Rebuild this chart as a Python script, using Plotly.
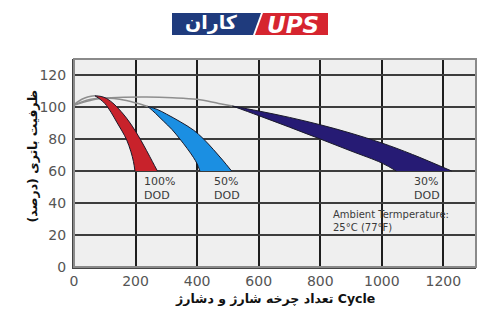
import plotly.graph_objects as go

# ---- data ----
x_ticks = [0, 200, 400, 600, 800, 1000, 1200]
y_ticks = [0, 20, 40, 60, 80, 100, 120]

# thin grey capacity curves (cycles, %)
g_red_x = [0, 15, 35, 55, 68]
g_red_y = [101.5, 103.6, 105.6, 106.7, 107.0]
g_blue_x = [0, 25, 55, 90, 130, 170, 205, 240]
g_blue_y = [101.3, 103.2, 104.8, 105.6, 105.3, 104.0, 102.3, 100.3]
g_navy_x = [0, 30, 70, 120, 236, 320, 400, 470, 515]
g_navy_y = [101.0, 102.9, 104.8, 105.8, 106.2, 105.8, 104.8, 102.2, 100.6]

# 100% DOD band
red_left_x = [68, 85, 101, 120, 139, 156, 171, 185, 193, 198]
red_left_y = [107, 104.8, 102, 96.8, 90.5, 85, 79.5, 72, 66, 60]
red_right_x = [68, 88, 106, 130, 160, 180, 198, 218, 236, 255, 271]
red_right_y = [107, 106.6, 105.3, 101.8, 95.6, 90.6, 85.4, 79, 72.7, 65.8, 60]

# 50% DOD band
blue_left_x = [240, 265, 290, 318, 344, 368, 388, 400, 409]
blue_left_y = [100.3, 96, 91.3, 86, 80, 74, 68.5, 64.5, 60]
blue_right_x = [240, 270, 301, 345, 388, 420, 453, 483, 512]
blue_right_y = [100.3, 98.5, 95.5, 90.8, 85.6, 80.2, 73.4, 66.8, 60]

# 30% DOD band
navy_top_x = [515, 600, 700, 800, 900, 1000, 1100, 1227]
navy_top_y = [100.6, 97.5, 93.5, 88.9, 83.6, 77.5, 70.3, 60]
navy_bot_x = [515, 600, 700, 800, 900, 1000, 1047]
navy_bot_y = [100.6, 94.6, 87.4, 80, 72.5, 65, 60]

band_labels = [("100%", "DOD", 220), ("50%", "DOD", 447), ("30%", "DOD", 1098)]
ambient_lines = ["Ambient Termperature:", "25°C (77°F)"]

x_title = "تعداد چرخه شارژ و دشارژ Cycle"
y_title = "ظرفیت باتری (درصد)\u200f"

# ---- layout geometry ----
W, H = 500, 310
ML, MR, MT, MB = 74, 24, 59, 43
PW, PH = W - ML - MR, H - MT - MB


def px(xp):
    return (xp - ML) / PW


def py(yp):
    return (H - MB - yp) / PH


FONT = "DejaVu Sans"
fig = go.Figure()

GREY = "#8e8e8e"
for gx, gy in [(g_navy_x, g_navy_y), (g_blue_x, g_blue_y), (g_red_x, g_red_y)]:
    fig.add_trace(go.Scatter(x=gx, y=gy, mode="lines",
                             line=dict(color=GREY, width=1.5, shape="spline"),
                             hoverinfo="skip", showlegend=False))

bands = [
    (red_left_x, red_left_y, red_right_x, red_right_y, "#c8222b"),
    (blue_left_x, blue_left_y, blue_right_x, blue_right_y, "#1b8fe2"),
    (navy_bot_x, navy_bot_y, navy_top_x, navy_top_y, "#261b74"),
]
for lx, ly, rx, ry, col in bands:
    fig.add_trace(go.Scatter(x=lx, y=ly, mode="lines",
                             line=dict(color="#1a1a2a", width=1, shape="spline"),
                             hoverinfo="skip", showlegend=False))
    fig.add_trace(go.Scatter(x=rx, y=ry, mode="lines", fill="tonexty",
                             fillcolor=col,
                             line=dict(color="#1a1a2a", width=1, shape="spline"),
                             hoverinfo="skip", showlegend=False))

annotations = []
TXT = "#3a3a3a"
for top, bot, xv in band_labels:
    annotations.append(dict(x=xv, y=49.3, xref="x", yref="y",
                            text=top + "<br>" + bot, align="left",
                            showarrow=False, xanchor="left", yanchor="middle",
                            font=dict(family=FONT, size=11, color=TXT)))
annotations.append(dict(x=835, y=29.0, xref="x", yref="y",
                        text="<br>".join(ambient_lines), align="left",
                        showarrow=False, xanchor="left", yanchor="middle",
                        font=dict(family=FONT, size=10, color=TXT)))

# axis titles
annotations.append(dict(x=px(275), y=py(298), xref="paper", yref="paper",
                        text="<b>" + x_title + "</b>", showarrow=False,
                        xanchor="center", yanchor="middle",
                        font=dict(family=FONT, size=12.5, color="#111")))
annotations.append(dict(x=px(31.5), y=py(157), xref="paper", yref="paper",
                        text="<b>" + y_title + "</b>", showarrow=False,
                        textangle=-90, xanchor="center", yanchor="middle",
                        font=dict(family=FONT, size=12.5, color="#111")))

# logo texts
annotations.append(dict(x=px(293), y=py(24.5), xref="paper", yref="paper",
                        text="<b><i>UPS</i></b>", showarrow=False,
                        xanchor="center", yanchor="middle",
                        font=dict(family=FONT, size=23, color="white")))
annotations.append(dict(x=px(211), y=py(23), xref="paper", yref="paper",
                        text="<b>کاران</b>", showarrow=False,
                        xanchor="center", yanchor="middle",
                        font=dict(family=FONT, size=19, color="white")))


def pth(pts):
    s = "M " + " L ".join(f"{px(a):.4f},{py(b):.4f}" for a, b in pts) + " Z"
    return s


shapes = [
    dict(type="path", xref="paper", yref="paper", layer="above",
         path=pth([(172, 13), (261, 13), (253, 35), (172, 35)]),
         fillcolor="#1f3b7d", line=dict(width=0)),
    dict(type="path", xref="paper", yref="paper", layer="above",
         path=pth([(263, 13), (328, 13), (328, 35), (255, 35)]),
         fillcolor="#d6252f", line=dict(width=0)),
    # plot frame
    dict(type="rect", xref="paper", yref="paper", x0=0, x1=1, y0=0, y1=1,
         layer="above", line=dict(color="#8a8a8a", width=2)),
]

fig.update_layout(
    width=W, height=H,
    margin=dict(l=ML, r=MR, t=MT, b=MB, pad=0),
    paper_bgcolor="white", plot_bgcolor="#efefef",
    showlegend=False,
    annotations=annotations, shapes=shapes,
    xaxis=dict(range=[0, 1306], tickvals=x_ticks, ticktext=[str(v) for v in x_ticks],
               showgrid=True, gridcolor="#1e1e1e", gridwidth=2,
               zeroline=False, showline=True, linecolor="#444", linewidth=2,
               ticks="", ticklen=0,
               tickfont=dict(family=FONT, size=14, color="#555")),
    yaxis=dict(range=[0, 130], tickvals=y_ticks, ticktext=[str(v) for v in y_ticks],
               showgrid=True, gridcolor="#3c3c3c", gridwidth=2,
               zeroline=False, showline=True, linecolor="#444", linewidth=2,
               ticks="outside", ticklen=3, tickcolor="rgba(0,0,0,0)",
               tickfont=dict(family=FONT, size=14, color="#555")),
)

fig.write_html("out.html")
